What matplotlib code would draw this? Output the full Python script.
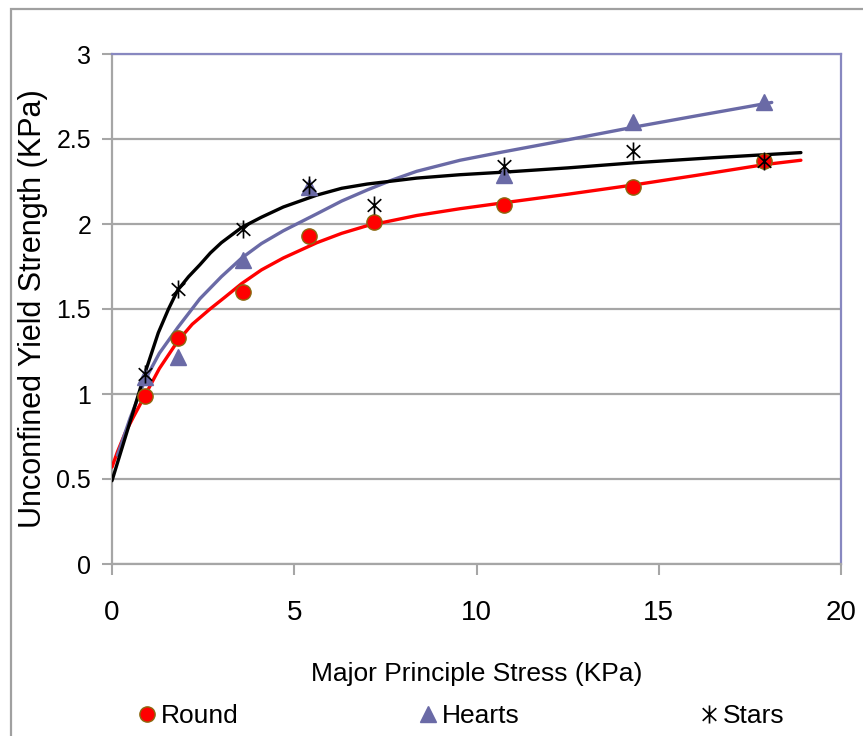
import matplotlib
matplotlib.use("Agg")
import matplotlib.pyplot as plt
from matplotlib import font_manager
from matplotlib.path import Path
from matplotlib.patches import Rectangle

# measured points
stress = [0.9, 1.8, 3.6, 5.4, 7.2, 10.75, 14.3, 17.9]
round_pts = [0.99, 1.33, 1.60, 1.93, 2.01, 2.11, 2.22, 2.37]
heart_stress = [0.9, 1.8, 3.6, 5.4, 10.75, 14.3, 17.9]
heart_pts = [1.10, 1.22, 1.79, 2.22, 2.29, 2.60, 2.72]
stars_pts = [1.12, 1.62, 1.97, 2.23, 2.11, 2.34, 2.43, 2.37]

# trend lines
round_fit_x = [0, 0.15, 0.36, 0.6, 0.9, 1.3, 1.8, 2.2, 2.69, 3.1, 3.56, 4.1, 4.7, 5.62, 6.3, 7.0,
               8.36, 9.55, 10.75, 12.5, 14.32, 16.0, 17.92, 18.9]
round_fit_y = [0.57, 0.66, 0.77, 0.87, 0.99, 1.15, 1.31, 1.41, 1.50, 1.57, 1.65, 1.73, 1.80, 1.89, 1.945, 1.99,
               2.05, 2.09, 2.125, 2.175, 2.23, 2.285, 2.35, 2.375]
heart_fit_x = [0.15, 0.5, 0.9, 1.3, 1.8, 2.41, 3.0, 3.56, 4.1, 4.7, 5.62, 6.3, 7.0, 7.7, 8.36, 9.55,
               10.75, 12.5, 14.32, 16.0, 18.1]
heart_fit_y = [0.64, 0.86, 1.08, 1.24, 1.39, 1.56, 1.69, 1.80, 1.885, 1.96, 2.06, 2.135, 2.20, 2.26, 2.31, 2.375,
               2.425, 2.495, 2.57, 2.635, 2.715]
stars_fit_x = [0, 0.2, 0.4, 0.63, 0.9, 1.27, 1.55, 1.8, 2.1, 2.41, 2.7, 3.0, 3.56, 4.1, 4.7, 5.62, 6.3, 7.0,
               8.36, 9.55, 10.75, 12.5, 14.32, 16.5, 18.9]
stars_fit_y = [0.49, 0.63, 0.77, 0.93, 1.12, 1.36, 1.50, 1.61, 1.69, 1.76, 1.83, 1.89, 1.98, 2.04, 2.10, 2.17,
               2.21, 2.235, 2.27, 2.29, 2.305, 2.33, 2.36, 2.39, 2.42]

x_ticks = [0, 5, 10, 15, 20]
y_ticks = [0, 0.5, 1, 1.5, 2, 2.5, 3]
y_tick_labels = ["0", "0.5", "1", "1.5", "2", "2.5", "3"]

names = {f.name for f in font_manager.fontManager.ttflist}
narrow = "Liberation Sans Narrow" if "Liberation Sans Narrow" in names else "Liberation Sans"
plt.rcParams["font.family"] = ["Liberation Sans", "DejaVu Sans"]

red = "#ff0000"
slate = "#6a6aa6"
grid_grey = "#a6a6a6"
frame_blue = "#8888c0"

asterisk = Path(
    [(0, -1), (0, 1), (-0.75, -0.7), (0.75, 0.7), (-0.75, 0.7), (0.75, -0.7)],
    [Path.MOVETO, Path.LINETO] * 3,
)

fig = plt.figure(figsize=(8.63, 7.36), dpi=100)
ax = fig.add_axes([112 / 863, 172 / 736, 729 / 863, 510 / 736])

# outer chart border
fig.patches.append(Rectangle((11 / 863, -0.05), 1.1, 0.05 + 1 - 9 / 736, transform=fig.transFigure,
                             fill=False, edgecolor="#a0a0a0", linewidth=1.6))

ax.plot(round_fit_x, round_fit_y, color=red, lw=2.4, zorder=3, solid_capstyle="round")
ax.plot(heart_fit_x, heart_fit_y, color=slate, lw=2.4, zorder=3, solid_capstyle="round")
ax.plot(stars_fit_x, stars_fit_y, color="black", lw=2.4, zorder=3, solid_capstyle="round")

h_round, = ax.plot(stress, round_pts, ls="none", marker="o", ms=11, mfc=red, mec="#8a6a10", mew=1.0,
                   zorder=4, label="Round")
h_heart, = ax.plot(heart_stress, heart_pts, ls="none", marker="^", ms=11.5, mfc=slate, mec=slate,
                   zorder=4, label="Hearts")
h_stars, = ax.plot(stress, stars_pts, ls="none", marker=asterisk, ms=13, mfc="none", mec="black", mew=1.2,
                   zorder=5, label="Stars")

ax.set_xlim(0, 20)
ax.set_ylim(0, 3)
ax.set_xticks(x_ticks)
ax.set_xticklabels([str(v) for v in x_ticks], fontfamily=narrow, fontsize=20)
ax.set_yticks(y_ticks)
ax.set_yticklabels(y_tick_labels, fontsize=18)
ax.tick_params(axis="x", length=8, width=1.5, color=grid_grey, pad=18)
ax.tick_params(axis="y", length=7, width=1.5, color=grid_grey, pad=8)

ax.grid(axis="y", color=grid_grey, lw=1.6)
ax.set_axisbelow(True)
for side in ("left", "bottom"):
    ax.spines[side].set_color(grid_grey)
    ax.spines[side].set_linewidth(1.6)
for side in ("top", "right"):
    ax.spines[side].set_color(frame_blue)
    ax.spines[side].set_linewidth(1.6)

ax.set_xlabel("Major Principle Stress (KPa)", fontfamily=narrow, fontsize=19, labelpad=26)
ax.set_ylabel("Unconfined Yield Strength (KPa)", fontsize=22, labelpad=6)

fig.legend(handles=[h_round, h_heart, h_stars], loc="center", bbox_to_anchor=(0.535, 0.027), ncol=3,
           frameon=False, prop={"family": narrow, "size": 19}, handlelength=0.6, handletextpad=0.2,
           columnspacing=6.9, borderaxespad=0)

fig.savefig("out.png", dpi=100)
